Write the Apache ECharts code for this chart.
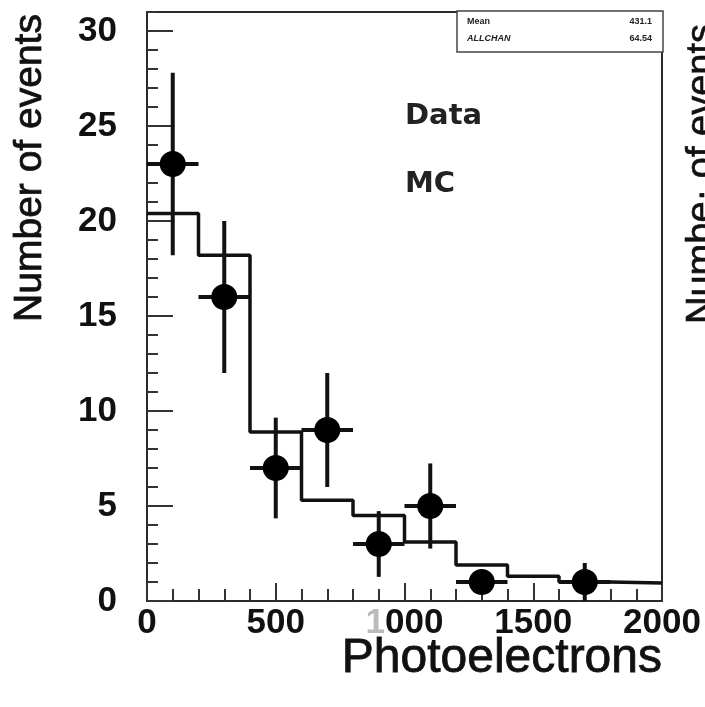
<!DOCTYPE html>
<html><head><meta charset="utf-8">
<script src="https://cdn.jsdelivr.net/npm/echarts@6/dist/echarts.min.js"></script>
<style>html,body{margin:0;padding:0;background:#fff}#c{width:705px;height:707px}</style>
</head><body><div id="c"></div>
<script>
// ---- data ----
const mcBinEdges = [0, 200, 400, 600, 800, 1000, 1200, 1400, 1600, 1800, 2000];
const mcCounts   = [20.4, 18.2, 8.9, 5.3, 4.5, 3.1, 1.9, 1.3, 1.0, 0.95];
const dataX      = [100, 300, 500, 700, 900, 1100, 1300, 1700];
const dataY      = [23, 16, 7, 9, 3, 5, 1, 1];
const dataYErr   = [4.8, 4.0, 2.65, 3.0, 1.73, 2.24, 0.6, 1.0];
const dataXErr   = [100, 100, 100, 100, 100, 100, 100, 100];
const xTickValues = [0, 500, 1000, 1500, 2000];
const yTickValues = [0, 5, 10, 15, 20, 25, 30];
const statNames  = ['Mean', 'ALLCHAN'];
const statValues = ['431.1', '64.54'];
const xTitle = 'Photoelectrons';
const yTitle = 'Number of events';
const legendTexts = ['Data', 'MC'];
const neighbourTitle = 'Numbe\u00b7 of events';

// ---- build chart ----
const chart = echarts.init(document.getElementById('c'), null, {renderer: 'canvas'});
const ink = '#111';
const mcLine = mcBinEdges.map((e, i) => [e, mcCounts[Math.min(i, mcCounts.length - 1)]]);
const errData = dataX.map((x, i) => [x, dataY[i], dataYErr[i], dataXErr[i]]);
const scatterData = dataX.map((x, i) => [x, dataY[i]]);

const option = {
  animation: false,
  backgroundColor: '#fff',
  grid: {left: 147, top: 12, width: 515, height: 589, show: true, borderColor: '#2a2a2a', borderWidth: 2, containLabel: false},
  xAxis: {
    type: 'value', min: 0, max: 2000, interval: 500,
    axisLine: {show: true, lineStyle: {color: '#2a2a2a', width: 2}},
    axisTick: {show: true, inside: true, length: 18, lineStyle: {color: '#333', width: 2}},
    minorTick: {show: true, splitNumber: 5, length: 12, lineStyle: {color: '#333', width: 2}},
    splitLine: {show: false},
    axisLabel: {
      margin: 5, fontSize: 35, fontWeight: 'bold', color: ink, fontFamily: 'Liberation Sans',
      formatter: v => xTickValues.includes(v) ? (v === 1000 ? '{f|1}{n|000}' : String(v)) : '',
      rich: {f: {color: '#bbb', fontSize: 35, fontWeight: 'bold', fontFamily: 'Liberation Sans'},
             n: {color: ink, fontSize: 35, fontWeight: 'bold', fontFamily: 'Liberation Sans'}}
    }
  },
  yAxis: [{
    type: 'value', min: 0, max: 31, interval: 5, position: 'left',
    axisLine: {show: true, lineStyle: {color: '#2a2a2a', width: 2}},
    axisTick: {show: true, inside: true, length: 26, lineStyle: {color: '#333', width: 2}},
    splitLine: {show: false},
    axisLabel: {margin: 30, fontSize: 35, fontWeight: 'bold', color: ink, fontFamily: 'Liberation Sans',
      showMaxLabel: false,
      formatter: v => yTickValues.includes(v) ? String(v) : ''}
  }, {
    type: 'value', min: 0, max: 31, interval: 1, position: 'left',
    axisLine: {show: false},
    axisTick: {show: true, inside: true, length: 11, lineStyle: {color: '#333', width: 2}},
    splitLine: {show: false},
    axisLabel: {show: false}
  }],
  series: [{
    type: 'line', name: 'MC', data: mcLine, step: 'end', symbol: 'none', z: 2,
    lineStyle: {color: ink, width: 3.5}
  }, {
    type: 'custom', name: 'errors', data: errData, z: 3,
    renderItem: (params, api) => {
      const x = api.value(0), y = api.value(1), ey = api.value(2), ex = api.value(3);
      const top = api.coord([x, y + ey]), bot = api.coord([x, Math.max(0, y - ey)]);
      const l = api.coord([x - ex, y]), r = api.coord([x + ex, y]);
      const st = {stroke: ink, lineWidth: 4};
      return {type: 'group', children: [
        {type: 'line', shape: {x1: top[0], y1: top[1], x2: bot[0], y2: bot[1]}, style: st},
        {type: 'line', shape: {x1: l[0], y1: l[1], x2: r[0], y2: r[1]}, style: st}
      ]};
    }
  }, {
    type: 'scatter', name: 'Data', data: scatterData, symbol: 'circle', symbolSize: 26, z: 4,
    itemStyle: {color: '#000', opacity: 1}
  }],
  graphic: [
    {type: 'text', x: 30, y: 168, rotation: Math.PI / 2,
     style: {text: yTitle, fontSize: 39, fontFamily: 'Liberation Sans', fill: ink, stroke: ink, lineWidth: 0.8, align: 'center', verticalAlign: 'middle'}},
    {type: 'text', x: 662, y: 659,
     style: {text: xTitle, fontSize: 48, fontFamily: 'Liberation Sans', fill: ink, stroke: ink, lineWidth: 0.8, align: 'right', verticalAlign: 'middle'}},
    {type: 'text', x: 703, y: 174, rotation: Math.PI / 2,
     style: {text: neighbourTitle, fontSize: 38, fontFamily: 'Liberation Sans', fill: ink, stroke: ink, lineWidth: 0.6, align: 'center', verticalAlign: 'middle'}},
    {type: 'text', x: 405, y: 116,
     style: {text: legendTexts[0], fontSize: 29, fontWeight: 'bold', fontFamily: 'DejaVu Sans', fill: '#222', align: 'left', verticalAlign: 'middle'}},
    {type: 'text', x: 405, y: 184,
     style: {text: legendTexts[1], fontSize: 29, fontWeight: 'bold', fontFamily: 'DejaVu Sans', fill: '#222', align: 'left', verticalAlign: 'middle'}},
    {type: 'rect', shape: {x: 457, y: 11, width: 206, height: 41},
     style: {fill: '#fff', stroke: '#444', lineWidth: 1.5}, z: 10},
    {type: 'text', x: 467, y: 22, z: 11,
     style: {text: statNames[0], fontSize: 9, fontWeight: 'bold', fontFamily: 'Liberation Sans', fill: '#222', verticalAlign: 'middle'}},
    {type: 'text', x: 652, y: 22, z: 11,
     style: {text: statValues[0], fontSize: 9, fontWeight: 'bold', fontFamily: 'Liberation Sans', fill: '#222', align: 'right', verticalAlign: 'middle'}},
    {type: 'text', x: 467, y: 39, z: 11,
     style: {text: statNames[1], fontSize: 9, fontWeight: 'bold', fontStyle: 'italic', fontFamily: 'Liberation Sans', fill: '#222', verticalAlign: 'middle'}},
    {type: 'text', x: 652, y: 39, z: 11,
     style: {text: statValues[1], fontSize: 9, fontWeight: 'bold', fontFamily: 'Liberation Sans', fill: '#222', align: 'right', verticalAlign: 'middle'}}
  ]
};
chart.setOption(option);
</script>
</body></html>
